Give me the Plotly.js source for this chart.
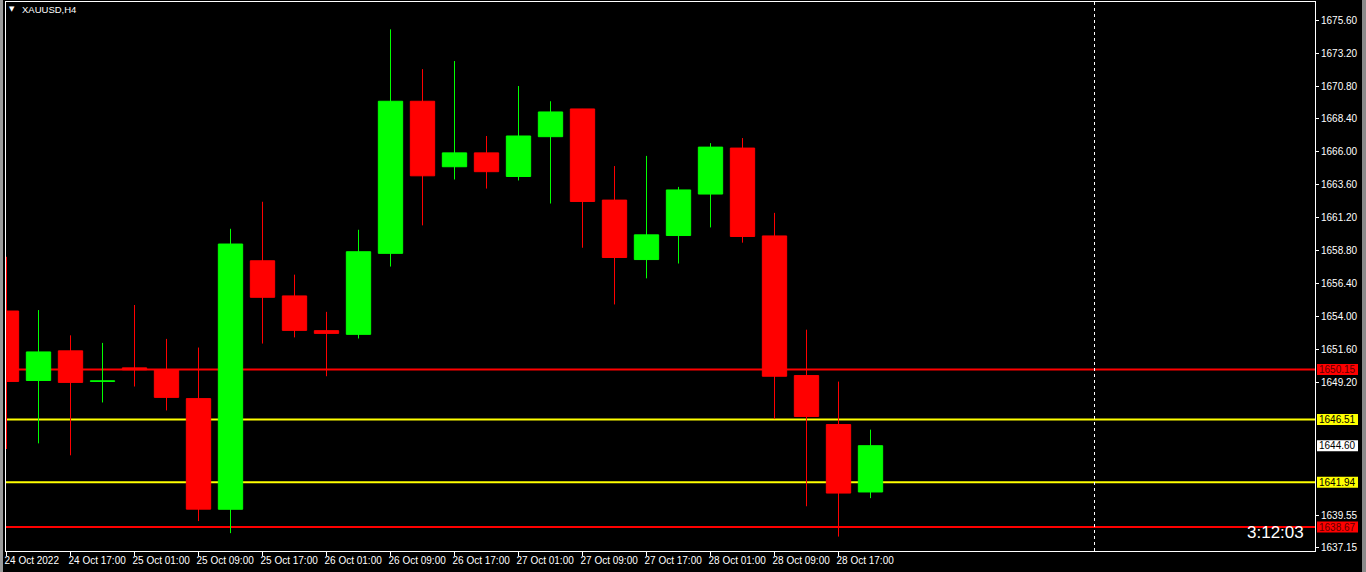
<!DOCTYPE html>
<html>
<head>
<meta charset="utf-8">
<script src="https://cdn.plot.ly/plotly-3.0.1.min.js"></script>
<style>
html,body{margin:0;padding:0;background:#000;}
#chart{width:1366px;height:572px;}
</style>
</head>
<body>
<div id="chart"></div>
<script>
// ---- Data (XAUUSD, H4) ----
var candleIndex = [0,1,2,3,4,5,6,7,8,9,10,11,12,13,14,15,16,17,18,19,20,21,22,23,24,25,26,27];
var openPrices  = [1654.41,1649.35,1651.51,1649.28,1650.27,1650.13,1648.03,1639.97,1658.07,1655.51,1652.98,1652.71,1658.61,1669.69,1664.92,1665.93,1664.21,1667.11,1669.13,1662.49,1658.16,1659.91,1662.93,1666.28,1659.88,1649.71,1646.14,1641.23];
var highPrices  = [1658.36,1654.48,1652.64,1652.09,1654.85,1652.38,1651.75,1660.40,1662.37,1657.06,1654.35,1660.33,1674.93,1672.03,1672.62,1667.16,1670.80,1669.69,1669.13,1664.97,1665.71,1663.45,1666.64,1667.01,1661.56,1653.05,1649.27,1645.77];
var lowPrices   = [1644.36,1644.77,1643.90,1647.75,1648.91,1647.17,1639.11,1638.23,1652.04,1652.49,1649.66,1652.41,1657.65,1660.65,1663.99,1663.33,1663.92,1662.24,1659.02,1654.89,1656.79,1657.87,1660.50,1659.39,1646.54,1640.19,1637.98,1640.78];
var closePrices = [1649.28,1651.43,1649.21,1649.33,1650.13,1648.12,1639.98,1659.29,1655.41,1653.00,1652.78,1658.73,1669.69,1664.26,1665.93,1664.56,1667.16,1668.91,1662.39,1658.31,1659.96,1663.23,1666.35,1659.84,1649.66,1646.73,1641.15,1644.60];

var xTickIndex  = [0,2,4,6,8,10,12,14,16,18,20,22,24,26];
var xTickLabels = ["24 Oct 2022","24 Oct 17:00","25 Oct 01:00","25 Oct 09:00","25 Oct 17:00","26 Oct 01:00","26 Oct 09:00","26 Oct 17:00","27 Oct 01:00","27 Oct 09:00","27 Oct 17:00","28 Oct 01:00","28 Oct 09:00","28 Oct 17:00"];

var yTickValues = [1675.60,1673.20,1670.80,1668.40,1666.00,1663.60,1661.20,1658.80,1656.40,1654.00,1651.60,1649.20,1639.55,1637.15];
var yTickLabels = ["1675.60","1673.20","1670.80","1668.40","1666.00","1663.60","1661.20","1658.80","1656.40","1654.00","1651.60","1649.20","1639.55","1637.15"];

var levelPrices = [1650.15, 1646.51, 1641.94, 1638.67];
var levelColors = ["#ff0000", "#ffff00", "#ffff00", "#ff0000"];
var levelTextColors = ["#5a0000", "#000000", "#000000", "#5a0000"];
var bidPrice = 1644.60;
var separatorIndex = 34;
var symbolTitle = "XAUUSD,H4";
var timerText = "3:12:03";

// ---- Build traces ----
var UP = "#00ff00", DOWN = "#ff0000";
function buildBodies(up) {
  var xs = [], base = [], h = [];
  for (var i = 0; i < candleIndex.length; i++) {
    var isUp = closePrices[i] >= openPrices[i];
    if (isUp !== up) continue;
    xs.push(candleIndex[i]);
    base.push(Math.min(openPrices[i], closePrices[i]));
    h.push(Math.abs(closePrices[i] - openPrices[i]));
  }
  return {x: xs, base: base, y: h};
}
function buildWicks(up) {
  var xs = [], ys = [];
  for (var i = 0; i < candleIndex.length; i++) {
    var isUp = closePrices[i] >= openPrices[i];
    if (isUp !== up) continue;
    xs.push(candleIndex[i], candleIndex[i], null);
    ys.push(lowPrices[i], highPrices[i], null);
  }
  return {x: xs, y: ys};
}
var upB = buildBodies(true), dnB = buildBodies(false);
var upW = buildWicks(true), dnW = buildWicks(false);

var traces = [
  {type:'scatter', mode:'lines', x: upW.x, y: upW.y, line:{color:UP, width:1}, hoverinfo:'skip', showlegend:false, connectgaps:false},
  {type:'scatter', mode:'lines', x: dnW.x, y: dnW.y, line:{color:DOWN, width:1}, hoverinfo:'skip', showlegend:false, connectgaps:false},
  {type:'bar', x: upB.x, y: upB.y, base: upB.base, width: 0.76, marker:{color:UP, line:{color:UP, width:1}}, showlegend:false},
  {type:'bar', x: dnB.x, y: dnB.y, base: dnB.base, width: 0.76, marker:{color:DOWN, line:{color:DOWN, width:1}}, showlegend:false}
];

// ---- Layout ----
var W = 1366, H = 572, ML = 6, MR = 51, MT = 2, MB = 21;
var PW = W - ML - MR, PH = H - MT - MB;
function px2paperX(px){ return (px - ML) / PW; }
function px2paperY(py){ return (H - MB - py) / PH; }
var yMin = 1636.93, yMax = 1676.92;
var unitPx = PH / (yMax - yMin);

var shapes = [];
levelPrices.forEach(function(p, k){
  shapes.push({type:'line', xref:'paper', yref:'y', x0:0, x1:1, y0:p, y1:p, layer:'below',
    line:{color: levelColors[k], width:2}});
});
shapes.push({type:'line', xref:'x', yref:'paper', x0:separatorIndex, x1:separatorIndex, y0:0, y1:1, layer:'below',
  line:{color:'#ffffff', width:1, dash:'3px,3px'}});
// price label boxes on the axis
var boxPrices = levelPrices.concat([bidPrice]);
var boxColors = levelColors.concat(['#ffffff']);
var boxTextColors = levelTextColors.concat(['#000000']);
var annotations = [];
boxPrices.forEach(function(p, k){
  var hh = 5.5 / unitPx;
  shapes.push({type:'rect', xref:'paper', yref:'y', x0:px2paperX(1317), x1:px2paperX(1358), y0:p-hh, y1:p+hh,
    fillcolor: boxColors[k], line:{width:0}, layer:'above'});
  annotations.push({xref:'paper', yref:'y', x:px2paperX(1337.5), y:p, xanchor:'center', yanchor:'middle',
    text: p.toFixed(2), showarrow:false, borderpad:0, borderwidth:0,
    font:{family:'Liberation Sans, Arial, sans-serif', size:10, color: boxTextColors[k]}});
});
// window edges
shapes.push({type:'rect', xref:'paper', yref:'paper', x0:px2paperX(0), x1:px2paperX(3), y0:px2paperY(572), y1:px2paperY(0),
  fillcolor:'#9a9a9a', line:{width:0}, layer:'above'});
shapes.push({type:'rect', xref:'paper', yref:'paper', x0:px2paperX(1362), x1:px2paperX(1366), y0:px2paperY(572), y1:px2paperY(0),
  fillcolor:'#8a8a8a', line:{width:0}, layer:'above'});

annotations.push({xref:'paper', yref:'paper', x:px2paperX(12), y:px2paperY(9), xanchor:'center', yanchor:'middle',
  text:'▼', showarrow:false, font:{family:'DejaVu Sans, sans-serif', size:7, color:'#ffffff'}});
annotations.push({xref:'paper', yref:'paper', x:px2paperX(20), y:px2paperY(9), xanchor:'left', yanchor:'middle',
  text:symbolTitle, showarrow:false, font:{family:'Liberation Sans, Arial, sans-serif', size:9.5, color:'#ffffff'}});
annotations.push({xref:'paper', yref:'paper', x:px2paperX(1306), y:px2paperY(532), xanchor:'right', yanchor:'middle',
  text:timerText, showarrow:false, font:{family:'Liberation Sans, Arial, sans-serif', size:17, color:'#ffffff'}});

var xStart = -0.5 / 32;
var layout = {
  width: W, height: H,
  margin: {l: ML, r: MR, t: MT, b: MB, pad: 0},
  paper_bgcolor: '#000000',
  plot_bgcolor: '#000000',
  barmode: 'overlay',
  showlegend: false,
  xaxis: {
    range: [xStart, xStart + PW / 32],
    tickmode: 'array', tickvals: xTickIndex, ticktext: xTickLabels,
    ticks: 'outside', ticklen: 4, tickcolor: '#ffffff', tickwidth: 1,
    ticklabelposition: 'outside right',
    ticklabelshift: -3,
    tickangle: 0,
    showgrid: false, zeroline: false,
    showline: true, linecolor: '#ffffff', linewidth: 1, mirror: true,
    tickfont: {family: 'Liberation Sans, Arial, sans-serif', size: 10, color: '#ffffff'},
    fixedrange: true
  },
  yaxis: {
    side: 'right',
    range: [yMin, yMax],
    tickmode: 'array', tickvals: yTickValues, ticktext: yTickLabels,
    ticks: 'outside', ticklen: 3, tickcolor: '#ffffff', tickwidth: 1,
    showgrid: false, zeroline: false,
    showline: true, linecolor: '#ffffff', linewidth: 1, mirror: true,
    tickfont: {family: 'Liberation Sans, Arial, sans-serif', size: 10, color: '#ffffff'},
    fixedrange: true
  },
  shapes: shapes,
  annotations: annotations
};

Plotly.newPlot('chart', traces, layout, {displayModeBar: false, staticPlot: true});
</script>
</body>
</html>
